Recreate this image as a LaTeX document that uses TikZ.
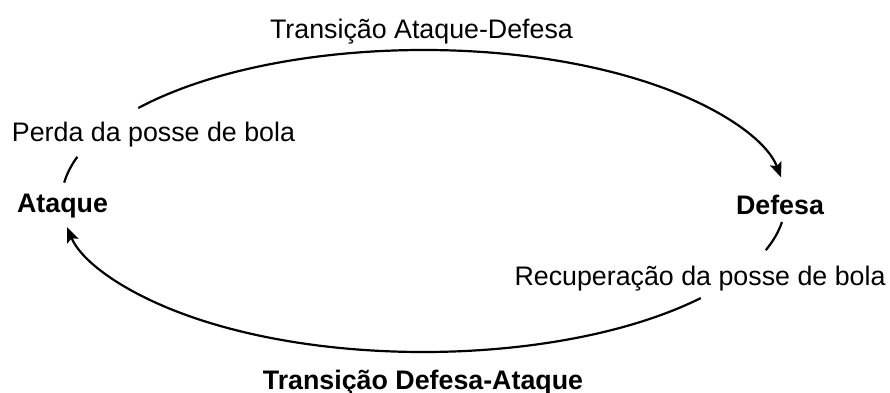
\documentclass[tikz,border=0pt]{standalone}
\usepackage{fontspec}
\setmainfont{Liberation Sans}
\usetikzlibrary{arrows.meta}

\begin{document}
\begin{tikzpicture}[x=0.5pt, y=0.5pt]
        % Define styles
        \tikzset{
            label/.style={anchor=base, inner sep=0pt, font=\fontsize{13.4}{16}\selectfont},
            phase/.style={anchor=base, inner sep=0pt, font=\fontsize{13.4}{16}\selectfont\bfseries},
            cycle/.style={line width=1.1pt},
            arrow/.style={cycle, ->, >={Stealth[length=7.5pt, width=6pt, inset=1.5pt]}}
        }
        \useasboundingbox (0,0) rectangle (890,392);

        % Nodes
        \coordinate (centre) at (423.5,191);
        \node[label] (trans_ad) at (421.5,353) {Transição Ataque-Defesa};
        \node[label] (perda) at (153.5,250) {Perda da posse de bola};
        \node[phase] (ataque) at (62.5,180) {Ataque};
        \node[phase] (defesa) at (780,178) {Defesa};
        \node[label] (recuperacao) at (700,107) {Recuperação da posse de bola};
        \node[phase] (trans_da) at (423,3) {Transição Defesa-Ataque};

        % Arrows
        \draw[arrow] ([shift={(142:181pt and 75.5pt)}]centre)
            arc[start angle=142, end angle=9, x radius=181pt, y radius=75.5pt];
        \draw[cycle] ([shift={(-8:181pt and 75.5pt)}]centre)
            arc[start angle=-8, end angle=-19, x radius=181pt, y radius=75.5pt];
        \draw[arrow] ([shift={(-40:181pt and 75.5pt)}]centre)
            arc[start angle=-40, end angle=-170, x radius=181pt, y radius=75.5pt];
        \draw[cycle] ([shift={(173:181pt and 75.5pt)}]centre)
            arc[start angle=173, end angle=163, x radius=181pt, y radius=75.5pt];
    \end{tikzpicture}
\end{document}
